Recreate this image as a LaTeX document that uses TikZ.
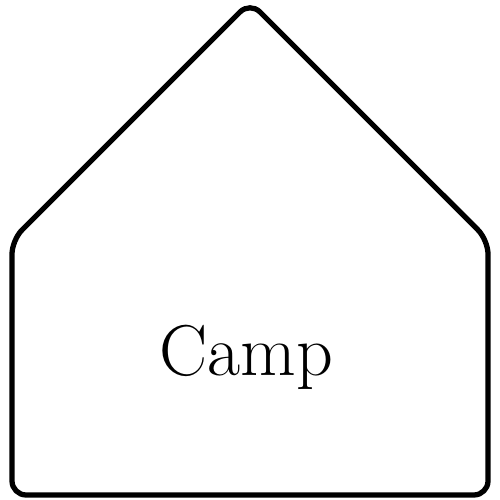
\documentclass[tikz,border=0pt]{standalone}
\begin{document}
\begin{tikzpicture}[
  campline/.style={draw=black, line width=1.5pt, rounded corners=4pt, line join=round},
  label/.style={font=\fontsize{20.5}{24}\selectfont, inner sep=0pt}
]
  % ===== Canvas =====
  \useasboundingbox (0,0) rectangle (5,5);

  % ===== House outline =====
  \draw[campline] (0.12,0.05) -- (0.12,2.6) -- (2.5,4.98) -- (4.88,2.6) -- (4.88,0.05) -- cycle;

  % ===== Label =====
  \node[label] (camp) at (2.46,1.43) {Camp};
\end{tikzpicture}
\end{document}
